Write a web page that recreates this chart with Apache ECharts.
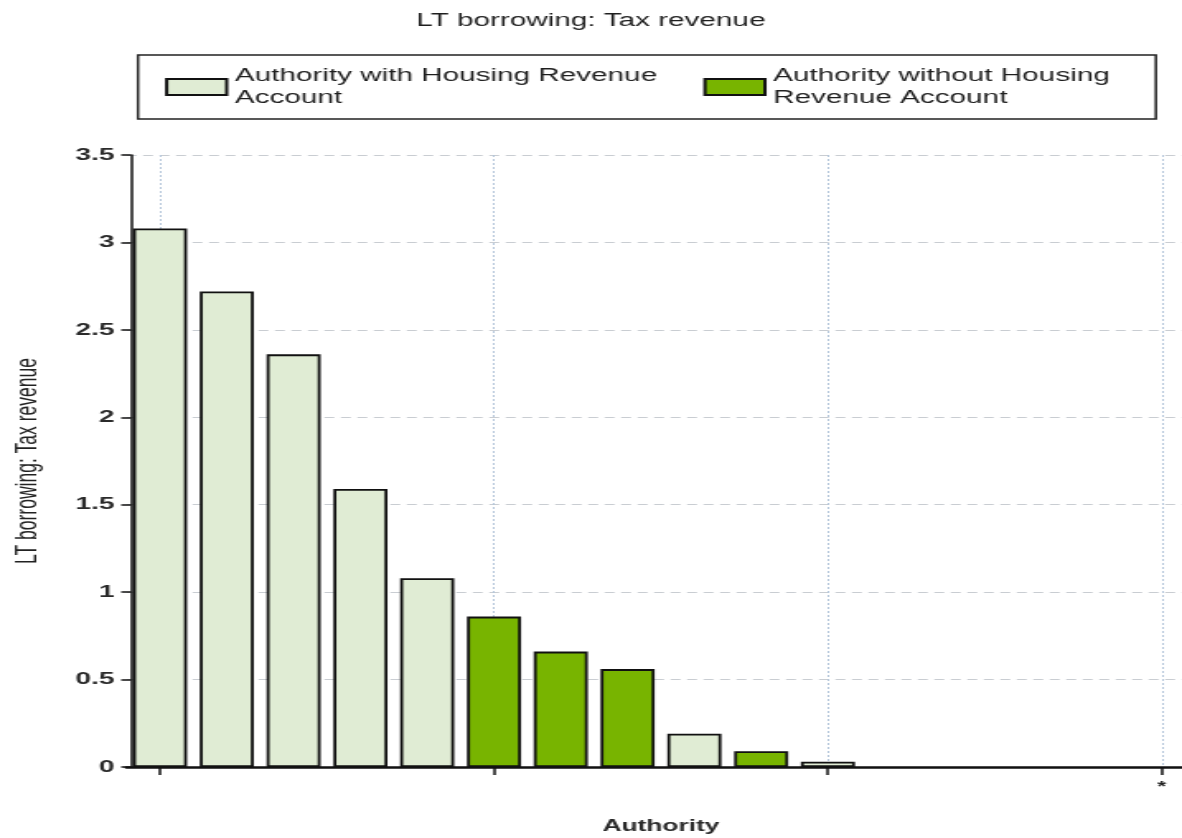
<!DOCTYPE html>
<html>
<head>
<meta charset="utf-8">
<script src="https://cdn.jsdelivr.net/npm/echarts@6/dist/echarts.min.js"></script>
<style>
    html, body {margin: 0; padding: 0; background: #fff; overflow: hidden;}
    /* the reference is stretched sideways, so draw narrow and stretch */
    #chart {width: 717px; height: 838px; transform: scaleX(1.6485); transform-origin: 0 0;}
</style>
</head>
<body>
<div id="chart"></div>
<script>
    const authorities = ['A1', 'A2', 'A3', 'A4', 'A5', 'A6', 'A7', 'A8', 'A9', 'A10', 'A11', 'A12', 'A13', 'A14', 'A15', 'A16'];
    const xTickLabels = ['', '', '', '', '', '', '', '', '', '', '', '', '', '', '', '*'];

    const withHRA = [3.08, 2.72, 2.36, 1.59, 1.08, '-', '-', '-', 0.19, '-', 0.03, '-', '-', '-', '-', '-'];
    const withoutHRA = ['-', '-', '-', '-', '-', 0.86, 0.66, 0.56, '-', 0.09, '-', '-', '-', '-', '-', '-'];

    const seriesNames = ['Authority with Housing Revenue Account', 'Authority without Housing Revenue Account'];
    const legendLabels = {
        'Authority with Housing Revenue Account': 'Authority with Housing Revenue\nAccount',
        'Authority without Housing Revenue Account': 'Authority without Housing\nRevenue Account'
    };

    const font = 'Liberation Sans, Arial, sans-serif';

    const myChart = echarts.init(document.getElementById('chart'));

    const option = {
        animation: false,
        title: {
            text: 'LT borrowing: Tax revenue',
            left: 'center',
            top: 7,
            textStyle: {fontFamily: font, fontSize: 18, fontWeight: 'normal', color: '#1e1e1e'}
        },
        legend: {
            left: 83.7,
            top: 55,
            orient: 'horizontal',
            padding: [10, 28, 10, 16.4],
            itemGap: 28,
            icon: 'rect',
            itemWidth: 36.4,
            itemHeight: 16,
            borderColor: '#222',
            borderWidth: 1.5,
            data: seriesNames,
            formatter: name => legendLabels[name],
            textStyle: {fontFamily: font, fontSize: 18, color: '#1e1e1e', lineHeight: 22}
        },
        grid: {left: 76.8, width: 648.3, top: 155, bottom: 71, containLabel: false, outerBoundsMode: 'none'},
        xAxis: {
            type: 'category',
            data: authorities,
            name: 'Authority',
            nameLocation: 'middle',
            nameGap: 52,
            nameTextStyle: {fontFamily: font, fontSize: 16, fontWeight: 'bold', color: '#2a2a2a'},
            axisLine: {lineStyle: {color: '#111', width: 2.5}},
            axisTick: {show: true, interval: 4, alignWithLabel: true, length: 8, lineStyle: {color: '#111', width: 1.5}},
            axisLabel: {
                show: true,
                interval: 0,
                margin: 13,
                formatter: (v, i) => xTickLabels[i],
                fontFamily: font, fontSize: 14, fontWeight: 'bold', color: '#222'
            },
            splitLine: {
                show: true,
                interval: 4,
                alignWithLabel: true,
                lineStyle: {color: '#b4c6da', type: [2, 2], width: 1}
            }
        },
        yAxis: {
            type: 'value',
            min: 0,
            max: 3.5,
            interval: 0.5,
            offset: -2.7,
            name: 'LT borrowing: Tax revenue',
            nameLocation: 'middle',
            nameGap: 53,
            nameTextStyle: {fontFamily: font, fontSize: 17.5, color: '#222'},
            axisLine: {show: true, lineStyle: {color: '#111', width: 1.5}},
            axisTick: {show: true, length: 6, lineStyle: {color: '#111', width: 1.5}},
            axisLabel: {margin: 10, fontFamily: font, fontSize: 17, fontWeight: 'bold', color: '#2a2a2a'},
            splitLine: {show: true, lineStyle: {color: '#c9cdd2', type: [6, 4], width: 1}}
        },
        series: [
            {
                name: seriesNames[0],
                type: 'bar',
                data: withHRA,
                barWidth: 32.8,
                barGap: '-100%',
                itemStyle: {color: '#e0ecd4', borderColor: '#111', borderWidth: 1.8}
            },
            {
                name: seriesNames[1],
                type: 'bar',
                data: withoutHRA,
                barWidth: 32.8,
                barGap: '-100%',
                itemStyle: {color: '#78b400', borderColor: '#111', borderWidth: 1.8}
            }
        ]
    };

    option && myChart.setOption(option);
</script>
</body>
</html>
